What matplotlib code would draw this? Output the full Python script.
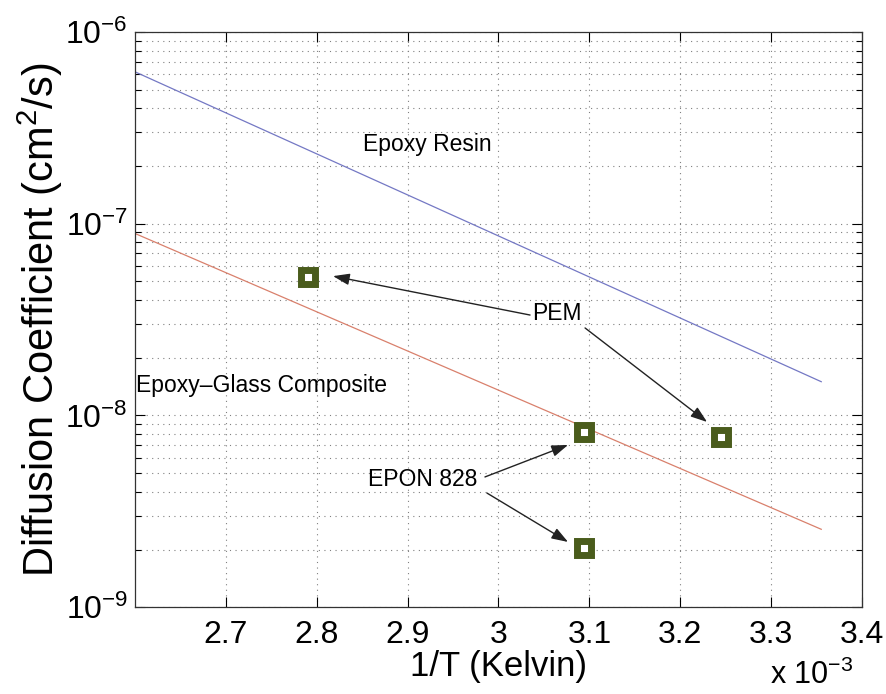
import matplotlib
matplotlib.use('Agg')
from matplotlib import pyplot as plt
from matplotlib.ticker import LogLocator, FixedLocator, NullFormatter

plt.rcParams['font.family'] = ['Liberation Sans', 'DejaVu Sans']
plt.rcParams['mathtext.fontset'] = 'custom'
plt.rcParams['mathtext.rm'] = 'Liberation Sans'
plt.rcParams['mathtext.it'] = 'Liberation Sans'

# 1/T in units of 1e-3 1/K
resin_x = [2.6, 3.355]
resin_d = [6.2e-7, 1.5e-8]
glass_x = [2.6, 3.355]
glass_d = [8.9e-8, 2.55e-9]

pem_x = [2.791, 3.245]
pem_d = [5.3e-8, 7.7e-9]
epon_x = [3.094, 3.094]
epon_d = [8.2e-9, 2.03e-9]

xticks = [2.7, 2.8, 2.9, 3.0, 3.1, 3.2, 3.3, 3.4]
xticklabels = ['2.7', '2.8', '2.9', '3', '3.1', '3.2', '3.3', '3.4']

fig = plt.figure(figsize=(8.87, 6.94), dpi=100)
ax = fig.add_axes([0.152, 0.125, 0.820, 0.829])

ax.plot(resin_x, resin_d, color='#7478c4', lw=0.9)
ax.plot(glass_x, glass_d, color='#d9806c', lw=0.9)

mk = dict(ls='none', marker='s', ms=9.5, mew=5, mec='#4a5c1c', mfc='white')
ax.plot(pem_x, pem_d, **mk)
ax.plot(epon_x, epon_d, **mk)

ax.set_yscale('log')
ax.set_xlim(2.6, 3.4)
ax.set_ylim(1e-9, 1e-6)

ax.xaxis.set_major_locator(FixedLocator(xticks))
ax.set_xticklabels(xticklabels)
ax.yaxis.set_minor_locator(LogLocator(base=10, subs=range(2, 10), numticks=20))
ax.yaxis.set_minor_formatter(NullFormatter())
ax.set_yticks([1e-9, 1e-8, 1e-7, 1e-6])
ax.set_yticklabels([r'$10^{-9}$', r'$10^{-8}$', r'$10^{-7}$', r'$10^{-6}$'])

ax.tick_params(which='both', direction='in', top=True, right=True, labelsize=23)
ax.tick_params(which='major', length=7, width=0.8)
ax.tick_params(which='minor', length=4, width=0.8)
ax.tick_params(axis='x', pad=9)
ax.tick_params(axis='y', pad=5)

ax.grid(True, which='major', ls=(0, (1, 4)), color='#808080', lw=0.8)
ax.grid(True, which='minor', axis='y', ls=(0, (1, 4)), color='#808080', lw=0.8)

for s in ax.spines.values():
    s.set_linewidth(0.9)
    s.set_color('#333333')

ax.set_xlabel('1/T (Kelvin)', fontsize=25, labelpad=0)
ax.set_ylabel(r'Diffusion Coefficient (cm$^2$/s)', fontsize=30, labelpad=0)
fig.text(0.868, 0.004, r'x $10^{-3}$', fontsize=22, ha='left', va='bottom')

ax.text(2.851, 2.58e-7, 'Epoxy Resin', fontsize=16.5, va='center', ha='left')
ax.text(2.6015, 1.44e-8, 'Epoxy\u2013Glass Composite', fontsize=16.5, va='center', ha='left')
ax.text(3.0644, 3.42e-8, 'PEM', fontsize=16.5, va='center', ha='center')
ax.text(2.9169, 4.66e-9, 'EPON 828', fontsize=16.5, va='center', ha='center')

arr = dict(arrowstyle='-|>,head_length=1.0,head_width=0.35', color='#222222', lw=1.0,
           shrinkA=0, shrinkB=0)
ax.annotate('', xy=(2.818, 5.33e-8), xytext=(3.0347, 3.34e-8), arrowprops=arr)
ax.annotate('', xy=(3.2294, 9.25e-9), xytext=(3.0952, 2.86e-8), arrowprops=arr)
ax.annotate('', xy=(3.0765, 7.02e-9), xytext=(2.9851, 4.78e-9), arrowprops=arr)
ax.annotate('', xy=(3.0765, 2.19e-9), xytext=(2.9873, 3.94e-9), arrowprops=arr)

fig.savefig('out.png', dpi=100)
